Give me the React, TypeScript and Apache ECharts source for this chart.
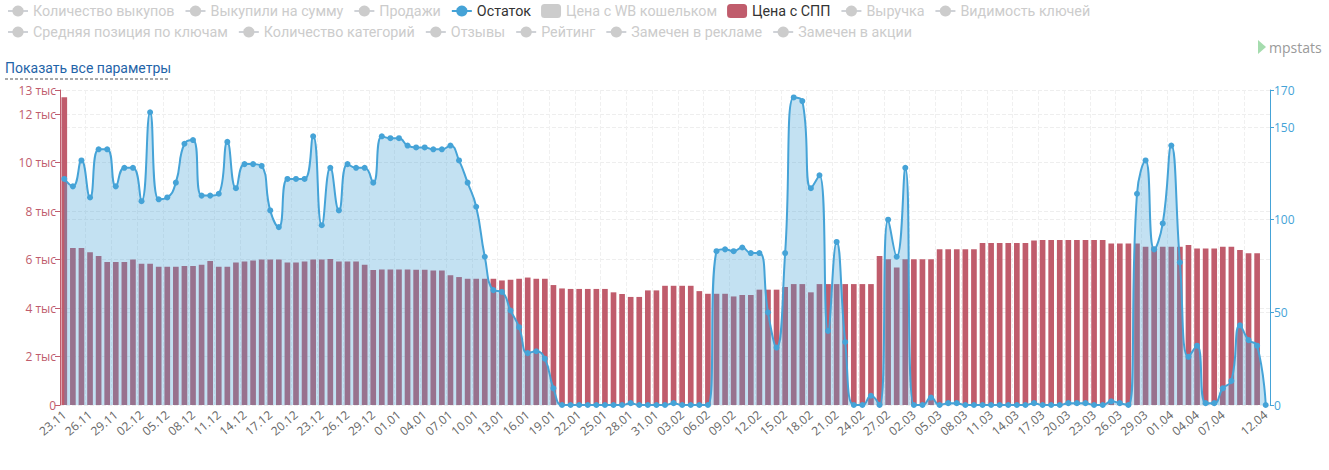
import React, { useEffect, useRef } from "react";
import * as echarts from "echarts";

const dates = [
  "23.11","24.11","25.11","26.11","27.11","28.11","29.11","30.11",
  "01.12","02.12","03.12","04.12","05.12","06.12","07.12","08.12","09.12","10.12","11.12","12.12","13.12","14.12","15.12","16.12","17.12","18.12","19.12","20.12","21.12","22.12","23.12","24.12","25.12","26.12","27.12","28.12","29.12","30.12","31.12",
  "01.01","02.01","03.01","04.01","05.01","06.01","07.01","08.01","09.01","10.01","11.01","12.01","13.01","14.01","15.01","16.01","17.01","18.01","19.01","20.01","21.01","22.01","23.01","24.01","25.01","26.01","27.01","28.01","29.01","30.01","31.01",
  "01.02","02.02","03.02","04.02","05.02","06.02","07.02","08.02","09.02","10.02","11.02","12.02","13.02","14.02","15.02","16.02","17.02","18.02","19.02","20.02","21.02","22.02","23.02","24.02","25.02","26.02","27.02","28.02",
  "01.03","02.03","03.03","04.03","05.03","06.03","07.03","08.03","09.03","10.03","11.03","12.03","13.03","14.03","15.03","16.03","17.03","18.03","19.03","20.03","21.03","22.03","23.03","24.03","25.03","26.03","27.03","28.03","29.03","30.03","31.03",
  "01.04","02.04","03.04","04.04","05.04","06.04","07.04","08.04","09.04","10.04","11.04","12.04",
];

// Цена с СПП (руб.)
const priceSpp: (number | null)[] = [
  12700, 6480, 6480, 6300, 6150, 5900, 5900, 5900, 6000, 5830,
  5830, 5710, 5710, 5710, 5740, 5740, 5790, 5940, 5710, 5710,
  5880, 5920, 5960, 6000, 6000, 6000, 5880, 5880, 5920, 6000,
  6000, 6030, 5920, 5920, 5920, 5790, 5570, 5590, 5590, 5590,
  5590, 5580, 5580, 5550, 5550, 5350, 5280, 5210, 5210, 5210,
  5210, 5140, 5170, 5210, 5260, 5210, 5210, 4950, 4810, 4790,
  4790, 4790, 4790, 4790, 4650, 4580, 4460, 4460, 4730, 4730,
  4920, 4920, 4920, 4920, 4700, 4590, 4590, 4590, 4480, 4540,
  4540, 4760, 4760, 4760, 4870, 4990, 4990, 4650, 4990, 4990,
  4990, 4990, 4990, 4990, 4990, 6150, 6010, 5670, 6010, 6010,
  6010, 6010, 6430, 6430, 6430, 6430, 6430, 6690, 6690, 6690,
  6690, 6690, 6690, 6790, 6810, 6810, 6810, 6810, 6810, 6810,
  6810, 6810, 6670, 6670, 6670, 6670, 6530, 6530, 6530, 6530,
  6530, 6600, 6460, 6460, 6460, 6530, 6530, 6400, 6260, 6260,
  null,
];

// Остаток (шт.)
const stock: number[] = [
  122, 118, 132, 112, 138, 138, 118, 128, 128, 110,
  158, 111, 112, 120, 141, 143, 113, 113, 114, 142,
  117, 130, 130, 129, 105, 96, 122, 122, 122, 145,
  97, 128, 105, 130, 128, 128, 120, 145, 144, 144,
  140, 139, 139, 138, 138, 140, 132, 120, 107, 80,
  62, 61, 51, 42, 28, 29, 25, 9, 0, 0,
  0, 0, 0, 0, 0, 0, 1, 0, 0, 0,
  0, 1, 0, 0, 0, 0, 83, 84, 83, 85,
  82, 82, 50, 31, 82, 166, 164, 117, 124, 40,
  88, 34, 0, 0, 5, 0, 100, 80, 128, 0,
  0, 4, 0, 1, 1, 0, 0, 0, 0, 0,
  0, 0, 0, 1, 0, 0, 0, 1, 1, 1,
  0, 0, 2, 1, 0, 114, 132, 84, 98, 140,
  77, 26, 32, 1, 1, 9, 13, 43, 35, 32,
  0,
];

const legendRow1 = [
  "Количество выкупов",
  "Выкупили на сумму",
  "Продажи",
  "Остаток",
  "Цена с WB кошельком",
  "Цена с СПП",
  "Выручка",
  "Видимость ключей",
];
const legendRow2 = [
  "Средняя позиция по ключам",
  "Количество категорий",
  "Отзывы",
  "Рейтинг",
  "Замечен в рекламе",
  "Замечен в акции",
];
const shownSeries = ["Остаток", "Цена с СПП"];
const barLegendNames = ["Цена с WB кошельком", "Цена с СПП"];

const leftMax = 13000;
const leftInterval = 2000;
const rightMax = 170;
const rightInterval = 50;

const RED = "#c05c6c";
const BLUE = "#45a3d7";

function selectedMap(names: string[]) {
  const m: Record<string, boolean> = {};
  names.forEach((n) => (m[n] = shownSeries.includes(n)));
  return m;
}

function buildOption(): any {
  const labelIdx = (i: number) => (i % 3 === 0 && i !== dates.length - 3) || i === dates.length - 1;
  const hiddenSeries = [...legendRow1, ...legendRow2]
    .filter((n) => !shownSeries.includes(n))
    .map((n) =>
      barLegendNames.includes(n)
        ? { name: n, type: "bar", data: [], itemStyle: { color: "#ccc" } }
        : { name: n, type: "line", data: [], symbol: "circle", color: "#ccc" }
    );
  const legendCommon = {
    left: 7,
    padding: 0,
    itemWidth: 20,
    itemHeight: 14,
    itemGap: 10,
    inactiveColor: "#ccc",
    textStyle: { fontFamily: "Roboto", fontSize: 14.3, color: "#333" },
  };
  return {
    animation: false,
    backgroundColor: "#fff",
    legend: [
      { ...legendCommon, top: 4, data: legendRow1, selected: selectedMap(legendRow1) },
      { ...legendCommon, top: 25, data: legendRow2, selected: selectedMap(legendRow2) },
    ],
    graphic: [
      {
        type: "text",
        left: 5,
        top: 61,
        style: { text: "Показать все параметры", fill: "#1f64a8", font: "14px Roboto" },
      },
      {
        type: "line",
        shape: { x1: 5, y1: 79, x2: 169, y2: 79 },
        style: { stroke: "#555", lineWidth: 1, lineDash: [3, 2] },
      },
      {
        type: "polygon",
        shape: { points: [[1258, 40], [1266, 47], [1258, 54]] },
        style: { fill: "#a5dcae" },
      },
      {
        type: "text",
        x: 1269,
        y: 47,
        style: { text: "mpstats", fill: "#9a9a9a", font: "14px 'Open Sans'", verticalAlign: "middle" },
      },
    ],
    grid: { left: 60, right: 59, top: 90, bottom: 65, containLabel: false, outerBoundsMode: "none" },
    xAxis: {
      type: "category",
      data: dates,
      boundaryGap: true,
      axisLine: { show: false },
      axisTick: { show: false },
      axisLabel: {
        interval: labelIdx,
        rotate: 40,
        color: "#666",
        fontSize: 12,
        fontFamily: "Open Sans",
        margin: 8,
      },
      splitLine: {
        show: true,
        interval: (i: number) => i % 3 === 0,
        lineStyle: { color: "#f0f0f0", type: "dashed" },
      },
    },
    yAxis: [
      {
        type: "value",
        position: "left",
        min: 0,
        max: leftMax,
        interval: leftInterval,
        axisLine: { show: true, lineStyle: { color: RED } },
        axisTick: { show: true, length: 5, lineStyle: { color: RED } },
        axisLabel: {
          color: RED,
          fontSize: 12,
          fontFamily: "Open Sans",
          margin: 4,
          formatter: (v: number) => (v === 0 ? "0" : v / 1000 + " тыс"),
        },
        splitLine: { show: true, lineStyle: { color: "#eee", type: "dashed" } },
      },
      {
        type: "value",
        position: "right",
        min: 0,
        max: rightMax,
        interval: rightInterval,
        axisLine: { show: true, lineStyle: { color: BLUE } },
        axisTick: { show: true, length: 4, lineStyle: { color: BLUE } },
        axisLabel: { color: BLUE, fontSize: 12, fontFamily: "Open Sans", margin: 4 },
        splitLine: { show: true, lineStyle: { color: "#eee", type: "dashed" } },
      },
    ],
    series: [
      {
        name: "Цена с СПП",
        type: "bar",
        yAxisIndex: 0,
        data: priceSpp,
        barCategoryGap: "34%",
        itemStyle: { color: RED },
      },
      {
        name: "Остаток",
        type: "line",
        yAxisIndex: 1,
        data: stock,
        smooth: true,
        symbol: "circle",
        symbolSize: 6,
        showAllSymbol: true,
        color: BLUE,
        lineStyle: { color: BLUE, width: 2 },
        itemStyle: { color: BLUE },
        areaStyle: { color: BLUE, opacity: 0.32 },
        z: 3,
      },
      ...hiddenSeries,
    ],
  };
}

export default function App() {
  const ref = useRef<HTMLDivElement>(null);
  useEffect(() => {
    if (!ref.current) return;
    const chart = echarts.init(ref.current, null, { renderer: "svg" });
    chart.setOption(buildOption());
    return () => chart.dispose();
  }, []);
  return (
    <div
      ref={ref}
      style={{ position: "fixed", left: 0, top: 0, width: 1329, height: 470, background: "#fff" }}
    />
  );
}
